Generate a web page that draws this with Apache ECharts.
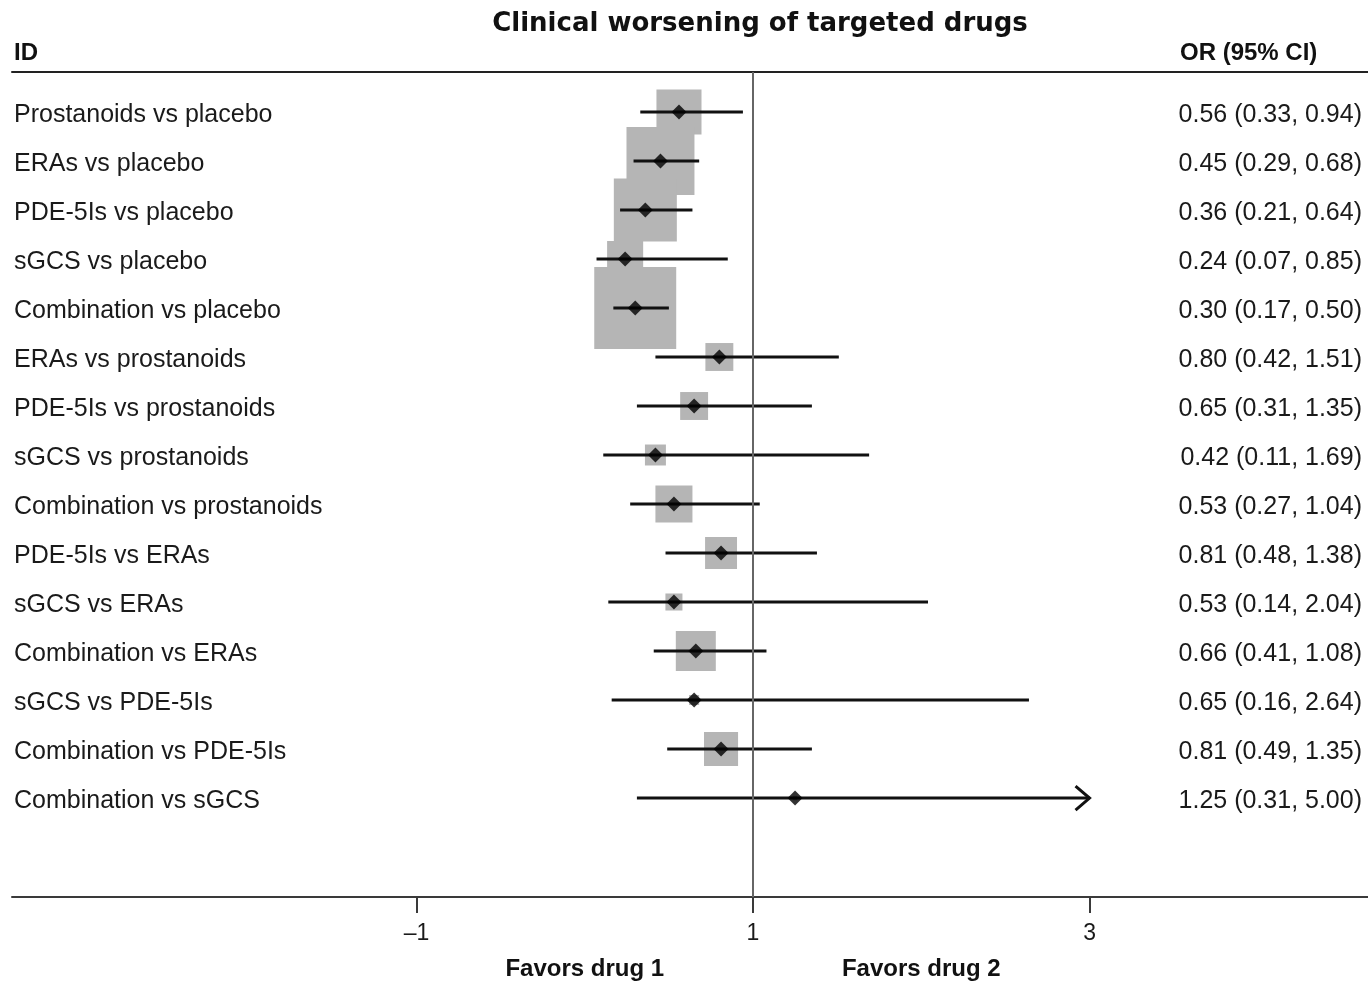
<!DOCTYPE html>
<html>
<head>
<meta charset="utf-8">
<style>
  html, body { margin: 0; padding: 0; background: #fff; }
  #chart { width: 1368px; height: 983px; }
</style>
<script src="https://cdn.jsdelivr.net/npm/echarts@6/dist/echarts.min.js"></script>
</head>
<body>
<div id="chart"></div>
<script>
// Comparisons, top to bottom
const comparisons = [
  'Prostanoids vs placebo',
  'ERAs vs placebo',
  'PDE-5Is vs placebo',
  'sGCS vs placebo',
  'Combination vs placebo',
  'ERAs vs prostanoids',
  'PDE-5Is vs prostanoids',
  'sGCS vs prostanoids',
  'Combination vs prostanoids',
  'PDE-5Is vs ERAs',
  'sGCS vs ERAs',
  'Combination vs ERAs',
  'sGCS vs PDE-5Is',
  'Combination vs PDE-5Is',
  'Combination vs sGCS'
];
// Odds ratios with 95% confidence limits
const oddsRatio = [0.56, 0.45, 0.36, 0.24, 0.30, 0.80, 0.65, 0.42, 0.53, 0.81, 0.53, 0.66, 0.65, 0.81, 1.25];
const ciLower   = [0.33, 0.29, 0.21, 0.07, 0.17, 0.42, 0.31, 0.11, 0.27, 0.48, 0.14, 0.41, 0.16, 0.49, 0.31];
const ciUpper   = [0.94, 0.68, 0.64, 0.85, 0.50, 1.51, 1.35, 1.69, 1.04, 1.38, 2.04, 1.08, 2.64, 1.35, 5.00];
// Relative weights (box area)
const weights   = [20.3, 46.2, 39.7, 13.0, 67.2, 7.8, 7.8, 4.4, 13.7, 10.2, 2.9, 16.0, 1.0, 11.6, 0.2];
// Axis ticks and the labels under the axis
const xTicks = [-1, 1, 3];
const favorLabels = { 0: 'Favors drug 1', 2: 'Favors drug 2' };

const X_MIN = -3.404, X_MAX = 4.655;   // axis extent across the full width
const X_CLIP = 3;                      // intervals beyond this get an arrow
const Y_MIN = -0.816, Y_MAX = 16.02;
const rowIdx = comparisons.map((_, i) => i);
const fmt = v => v.toFixed(2);
const orText = rowIdx.map(i => `${fmt(oddsRatio[i])} (${fmt(ciLower[i])}, ${fmt(ciUpper[i])})`);

const chart = echarts.init(document.getElementById('chart'), null, { renderer: 'canvas' });

const textColor = '#1a1a1a';
const sans = 'Liberation Sans, Arial, sans-serif';
const narrow = 'Liberation Sans Narrow, Liberation Sans, sans-serif';

const option = {
  animation: false,
  backgroundColor: '#fff',
  title: {
    text: 'Clinical worsening of targeted drugs',
    left: 755, top: 6, textAlign: 'center',
    textStyle: { fontFamily: 'DejaVu Sans', fontWeight: 'bold', fontSize: 26, color: '#111' }
  },
  graphic: [
    { type: 'text', left: 14, top: 41, style: { text: 'ID', font: 'bold 24px Liberation Sans', fill: '#111' } },
    { type: 'text', left: 1180, top: 41, style: { text: 'OR (95% CI)', font: 'bold 24px Liberation Sans', fill: '#111' } }
  ],
  grid: { left: 12, right: 0, top: 72, bottom: 86, containLabel: false },
  xAxis: [
    {
      type: 'value', min: X_MIN, max: X_MAX, position: 'bottom',
      axisLine: { show: true, onZero: false, lineStyle: { color: '#3a3a3a', width: 2 } },
      axisTick: { show: true, customValues: xTicks, length: 16, lineStyle: { color: '#3a3a3a', width: 2 } },
      axisLabel: {
        customValues: xTicks.concat([0, 2]),
        margin: 25, fontSize: 23, fontFamily: sans, color: textColor,
        formatter: v => favorLabels[v] !== undefined ? '{fav|' + favorLabels[v] + '}' : (v < 0 ? '–' + Math.abs(v) : String(v)),
        rich: { fav: { fontSize: 24, fontWeight: 'bold', fontFamily: sans, color: '#111', padding: [35, 0, 0, 0] } }
      },
      splitLine: { show: false }
    },
    {
      type: 'value', min: X_MIN, max: X_MAX, position: 'top',
      axisLine: { show: true, onZero: false, lineStyle: { color: '#222', width: 2 } },
      axisTick: { show: false }, axisLabel: { show: false }, splitLine: { show: false }
    }
  ],
  yAxis: [
    {
      type: 'value', inverse: true, min: Y_MIN, max: Y_MAX, position: 'left',
      axisLine: { show: false, onZero: false }, axisTick: { show: false }, splitLine: { show: false },
      axisLabel: {
        customValues: rowIdx, inside: true, margin: 2,
        formatter: v => '{t|' + comparisons[v] + '}',
        rich: { t: { fontSize: 25, fontFamily: sans, color: textColor, padding: [6, 0, 0, 0] } }
      }
    },
    {
      type: 'value', inverse: true, min: Y_MIN, max: Y_MAX, position: 'right',
      axisLine: { show: false, onZero: false }, axisTick: { show: false }, splitLine: { show: false },
      axisLabel: {
        customValues: rowIdx, inside: true, margin: 6,
        formatter: v => '{t|' + orText[v] + '}',
        rich: { t: { fontSize: 25, fontFamily: narrow, color: textColor, padding: [6, 0, 0, 0] } }
      }
    }
  ],
  series: [
    {
      // weight boxes
      type: 'custom', xAxisIndex: 0, yAxisIndex: 0, z: 1, silent: true,
      data: rowIdx.map(i => [oddsRatio[i], i, weights[i]]),
      encode: { x: 0, y: 1 },
      renderItem: (params, api) => {
        const c = api.coord([api.value(0), api.value(1)]);
        const side = 10 * Math.sqrt(api.value(2));
        return {
          type: 'rect',
          shape: { x: c[0] - side / 2, y: c[1] - side / 2, width: side, height: side },
          style: { fill: '#b5b5b5' }
        };
      }
    },
    {
      // confidence intervals
      type: 'custom', xAxisIndex: 0, yAxisIndex: 0, z: 2, silent: true,
      data: rowIdx.map(i => [ciLower[i], ciUpper[i], i]),
      encode: { x: [0, 1], y: 2 },
      renderItem: (params, api) => {
        const hi = api.value(1);
        const p0 = api.coord([api.value(0), api.value(2)]);
        const p1 = api.coord([Math.min(hi, X_CLIP), api.value(2)]);
        const children = [{
          type: 'line',
          shape: { x1: p0[0], y1: p0[1], x2: p1[0], y2: p1[1] },
          style: { stroke: '#111', lineWidth: 3 }
        }];
        if (hi > X_CLIP) {
          children.push({
            type: 'polyline',
            shape: { points: [[p1[0] - 14, p1[1] - 12], [p1[0], p1[1]], [p1[0] - 14, p1[1] + 12]] },
            style: { stroke: '#111', lineWidth: 3, fill: null }
          });
        }
        return { type: 'group', children };
      }
    },
    {
      // point estimates and the line of no effect
      type: 'scatter', xAxisIndex: 0, yAxisIndex: 0, z: 3, silent: true,
      symbol: 'diamond', symbolSize: [15, 15],
      itemStyle: { color: '#000' },
      data: rowIdx.map(i => [oddsRatio[i], i]),
      markLine: {
        silent: true, symbol: ['none', 'none'],
        label: { show: false },
        lineStyle: { color: '#666', width: 2, type: 'solid' },
        data: [{ xAxis: 1 }]
      }
    }
  ]
};

chart.setOption(option);
</script>
</body>
</html>
